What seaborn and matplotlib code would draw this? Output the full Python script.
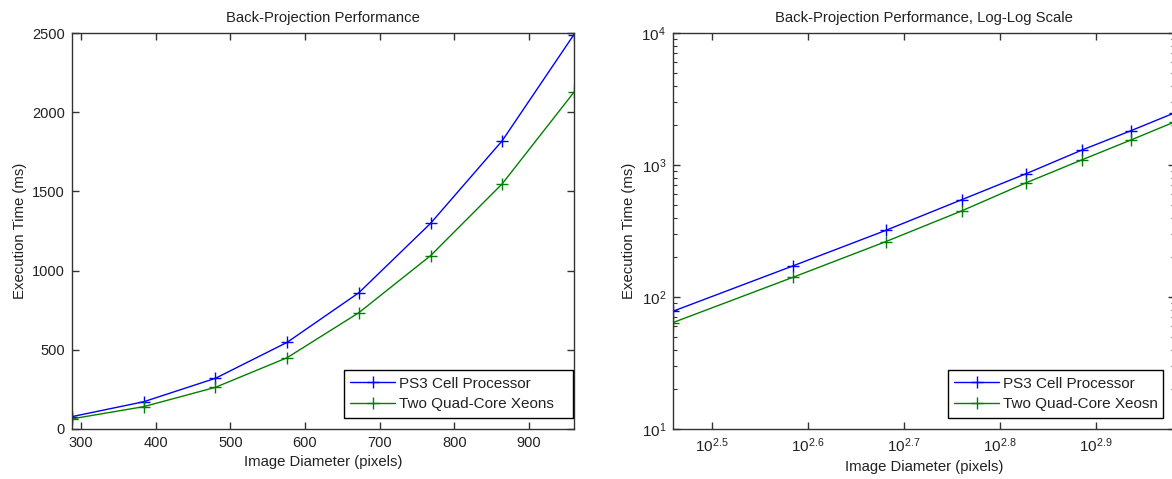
import numpy as np
import pandas as pd
import matplotlib
matplotlib.use('Agg')
import matplotlib.pyplot as plt
import matplotlib.ticker as mticker
import seaborn as sns

# image diameters (pixels) and execution times (ms)
diameters = [288, 384, 480, 576, 672, 768, 864, 960]
ps3_times = [78, 172, 320, 547, 860, 1298, 1820, 2490]
xeon_times = [64, 141, 263, 450, 734, 1094, 1548, 2126]

x_ticks_lin = [300, 400, 500, 600, 700, 800, 900]
y_ticks_lin = [0, 500, 1000, 1500, 2000, 2500]
x_ticks_log_exp = [2.5, 2.6, 2.7, 2.8, 2.9]
y_ticks_log_exp = [1, 2, 3, 4]

sns.set_style('ticks')
plt.rcParams['font.family'] = ['Liberation Sans', 'DejaVu Sans']
plt.rcParams['mathtext.default'] = 'regular'
plt.rcParams['xtick.direction'] = 'in'
plt.rcParams['ytick.direction'] = 'in'
plt.rcParams['xtick.top'] = True
plt.rcParams['ytick.right'] = True

df = pd.DataFrame({
    'Image Diameter (pixels)': diameters * 2,
    'Execution Time (ms)': ps3_times + xeon_times,
    'series': ['PS3 Cell Processor'] * len(diameters) + ['Two Quad-Core Xeons'] * len(diameters),
})

BLUE = '#0000ff'
GREEN = '#008000'
AXC = '#333333'
TXT = '#222222'

fig = plt.figure(figsize=(11.72, 4.79), dpi=100)
ax1 = fig.add_axes([0.0614, 0.1044, 0.4283, 0.8267])
ax2 = fig.add_axes([0.5742, 0.1044, 0.4283, 0.8267])


def draw(ax, labels, leg_x, leg_w):
    for (name, sub), color, lab in zip(df.groupby('series', sort=False), [BLUE, GREEN], labels):
        sns.lineplot(data=sub, x='Image Diameter (pixels)', y='Execution Time (ms)', ax=ax,
                     color=color, marker='+', markersize=8.5, markeredgewidth=1.0,
                     markeredgecolor=color, linewidth=1.0, label=lab)
    for s in ax.spines.values():
        s.set_color(AXC)
        s.set_linewidth(1.0)
    ax.tick_params(which='major', length=5, width=1, color=AXC, labelsize=10.5, labelcolor=TXT, pad=5)
    ax.tick_params(which='minor', length=3, width=0.8, color=AXC)
    ax.set_xlabel('Image Diameter (pixels)', fontsize=10.7, color=TXT, labelpad=4)
    ax.set_ylabel('Execution Time (ms)', fontsize=10.7, color=TXT, labelpad=4)
    # MATLAB style legend box, stretched to the measured width
    leg = ax.legend(loc='lower right', bbox_to_anchor=(leg_x, 0.028, leg_w, 0.1), mode='expand',
                    fontsize=11, frameon=True, fancybox=False,
                    edgecolor='black', framealpha=1, handlelength=2.9, handletextpad=0.25,
                    borderpad=0.42, labelspacing=0.45, borderaxespad=0)
    leg.get_frame().set_linewidth(1.0)
    for t in leg.get_texts():
        t.set_color(TXT)


# linear plot
draw(ax1, ['PS3 Cell Processor', 'Two Quad-Core Xeons'], 0.542, 0.456)
ax1.set_xlim(288, 960)
ax1.set_ylim(0, 2500)
ax1.set_xticks(x_ticks_lin)
ax1.set_yticks(y_ticks_lin)
ax1.set_title('Back-Projection Performance', fontsize=10.7, color=TXT, pad=8)

# log-log plot
draw(ax2, ['PS3 Cell Processor', 'Two Quad-Core Xeosn'], 0.548, 0.428)
ax2.set_xscale('log')
ax2.set_yscale('log')
ax2.set_xlim(288, 960)
ax2.set_ylim(10, 10000)
ax2.set_xticks([10 ** e for e in x_ticks_log_exp])
ax2.set_xticklabels([r'$10^{%s}$' % e for e in x_ticks_log_exp], fontsize=11)
ax2.xaxis.set_minor_locator(mticker.NullLocator())
ax2.set_yticks([10 ** e for e in y_ticks_log_exp])
ax2.set_yticklabels([r'$10^{%d}$' % e for e in y_ticks_log_exp], fontsize=11)
ax2.yaxis.set_minor_locator(mticker.LogLocator(base=10, subs=np.arange(2, 10)))
ax2.yaxis.set_minor_formatter(mticker.NullFormatter())
ax2.set_title('Back-Projection Performance, Log-Log Scale', fontsize=10.7, color=TXT, pad=8)

fig.savefig('out.png', dpi=100, facecolor='white')
